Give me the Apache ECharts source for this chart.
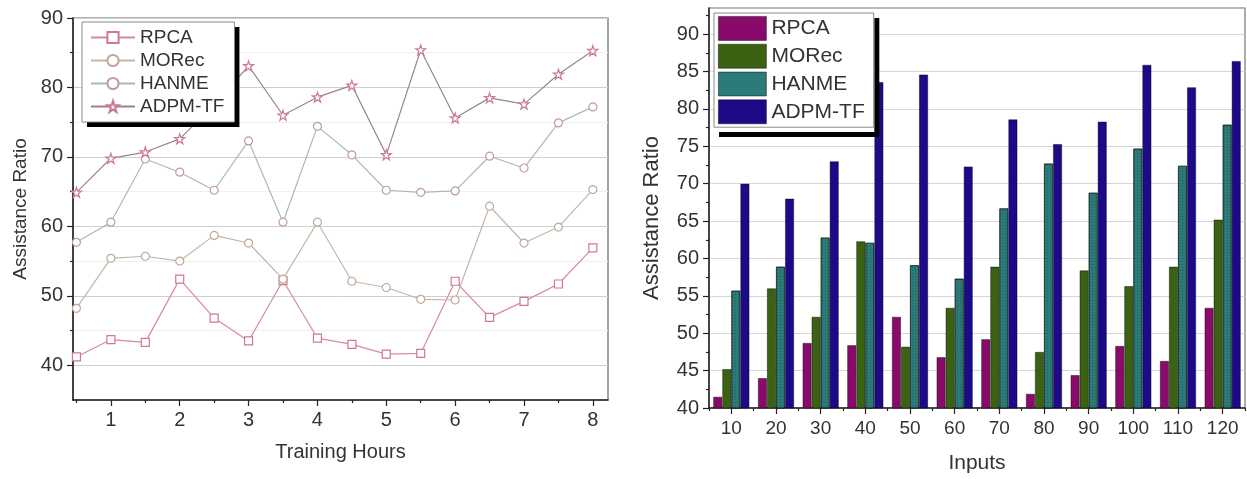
<!DOCTYPE html>
<html>
<head>
<meta charset="utf-8">
<title>Assistance Ratio</title>
<script src="https://cdn.jsdelivr.net/npm/echarts@6/dist/echarts.min.js"></script>
<style>
  html, body { margin: 0; padding: 0; background: #ffffff; }
  #chart { width: 1247px; height: 479px; }
</style>
</head>
<body>
<div id="chart"></div>
<script>
// ---- Left panel: assistance ratio over training hours ----
const hours = [0.5, 1, 1.5, 2, 2.5, 3, 3.5, 4, 4.5, 5, 5.5, 6, 6.5, 7, 7.5, 8];
const rpcaHours  = [41.2, 43.7, 43.3, 52.4, 46.8, 43.5, 52.2, 43.9, 43.0, 41.6, 41.7, 52.1, 46.9, 49.2, 51.7, 56.9];
const morecHours = [48.2, 55.4, 55.7, 55.0, 58.7, 57.6, 52.4, 60.6, 52.1, 51.2, 49.5, 49.4, 62.9, 57.6, 59.9, 65.3];
const hanmeHours = [57.7, 60.6, 69.7, 67.8, 65.2, 72.3, 60.6, 74.4, 70.3, 65.2, 64.9, 65.1, 70.1, 68.4, 74.9, 77.2];
const adpmHours  = [64.9, 69.8, 70.7, 72.6, 77.5, 83.1, 76.0, 78.6, 80.3, 70.3, 85.4, 75.6, 78.5, 77.6, 81.9, 85.3];
const hourLabels = [1, 2, 3, 4, 5, 6, 7, 8];
const hourHalfTicks = [0.5, 1.5, 2.5, 3.5, 4.5, 5.5, 6.5, 7.5];
const leftYLabels = [40, 50, 60, 70, 80, 90];
const leftYMinor = [45, 55, 65, 75, 85];

// ---- Right panel: assistance ratio per input count ----
const inputs = ['10', '20', '30', '40', '50', '60', '70', '80', '90', '100', '110', '120'];
const rpcaInputs  = [41.5, 44.0, 48.7, 48.4, 52.2, 46.8, 49.2, 41.9, 44.4, 48.3, 46.3, 53.4];
const morecInputs = [45.2, 56.0, 52.2, 62.3, 48.2, 53.4, 58.9, 47.5, 58.4, 56.3, 58.9, 65.2];
const hanmeInputs = [55.7, 58.9, 62.8, 62.1, 59.1, 57.3, 66.7, 72.7, 68.8, 74.7, 72.4, 77.9];
const adpmInputs  = [70.0, 68.0, 73.0, 83.6, 84.6, 72.3, 78.6, 75.3, 78.3, 85.9, 82.9, 86.4];
const rightYLabels = [40, 45, 50, 55, 60, 65, 70, 75, 80, 85, 90];
const rightYMinor = [42.5, 47.5, 52.5, 57.5, 62.5, 67.5, 72.5, 77.5, 82.5, 87.5, 92.5];

const seriesNames = ['RPCA', 'MORec', 'HANME', 'ADPM-TF'];

const FONT = '"Liberation Sans", Arial, sans-serif';
const TEXT = '#333333';
const STAR = 'path://M50,2 L61,36 L97,36 L68,57 L79,92 L50,71 L21,92 L32,57 L3,36 L39,36 Z';

const pairs = (xs, ys) => xs.map((x, i) => [x, ys[i]]);

const lineStyles = [
  { name: seriesNames[0], data: rpcaHours,  line: '#d58aa2', mark: '#d07892', symbol: 'rect' },
  { name: seriesNames[1], data: morecHours, line: '#c2b6a6', mark: '#c0a898', symbol: 'circle' },
  { name: seriesNames[2], data: hanmeHours, line: '#a6bcb0', mark: '#c09aa0', symbol: 'circle' },
  { name: seriesNames[3], data: adpmHours,  line: '#9c809e', mark: '#cc7a96', symbol: STAR }
];

const barColors = ['#8a0a6c', '#3a6212', '#2b7b79', '#1c0a88'];
const barData = [rpcaInputs, morecInputs, hanmeInputs, adpmInputs];
const barBorder = 'rgba(0,0,0,0.55)';
// HANME bars carry a fine dotted fill
const dotFill = { symbol: 'rect', symbolSize: 1, color: 'rgba(10,40,40,0.35)', dashArrayX: [1, 2], dashArrayY: [1, 2], rotation: 0 };
const barDecals = [null, null, dotFill, null];

const lineSeries = lineStyles.map(s => ({
  name: s.name,
  type: 'line',
  xAxisIndex: 0,
  yAxisIndex: 0,
  data: pairs(hours, s.data),
  symbol: s.symbol,
  symbolSize: s.symbol === STAR ? 10 : 8,
  lineStyle: { color: s.line, width: 1.2 },
  itemStyle: { color: '#ffffff', borderColor: s.mark, borderWidth: 1.2 },
  z: 3
}));

const barSeries = barData.map((d, i) => {
  const style = { color: barColors[i], borderColor: barBorder, borderWidth: 0.8 };
  if (barDecals[i]) style.decal = barDecals[i];
  return {
    name: seriesNames[i],
    type: 'bar',
    xAxisIndex: 2,
    yAxisIndex: 2,
    data: d,
    barGap: '0%',
    barCategoryGap: '19%',
    itemStyle: style
  };
});

// Legend boxes: a plain white box casting the black drop shadow sits behind,
// and the visible legend (grey frame, icons, text) is drawn on top of it.
const leftLegendBase = {
  orient: 'vertical',
  left: 82, top: 22,
  padding: [6, 10, 6, 8],
  itemWidth: 44, itemHeight: 14, itemGap: 4,
  selectedMode: false
};
const rightLegendBase = {
  orient: 'vertical',
  left: 714, top: 13,
  padding: [3, 9, 3, 4],
  itemWidth: 48, itemHeight: 24, itemGap: 3,
  selectedMode: false
};
const shadowBox = {
  backgroundColor: '#ffffff',
  borderWidth: 0,
  shadowColor: '#000000', shadowBlur: 0, shadowOffsetX: 5, shadowOffsetY: 5,
  itemStyle: { opacity: 0 },
  lineStyle: { opacity: 0 },
  z: 4
};

const chart = echarts.init(document.getElementById('chart'), null, { renderer: 'canvas' });

chart.setOption({
  backgroundColor: '#ffffff',
  animation: false,
  textStyle: { fontFamily: FONT, color: TEXT },
  grid: [
    { left: 73, top: 18, width: 535, height: 382, show: true, borderColor: '#666666', borderWidth: 1.2, backgroundColor: 'transparent' },
    { left: 709, top: 8, width: 536, height: 401, show: true, borderColor: '#777777', borderWidth: 1.2, backgroundColor: 'transparent' }
  ],
  legend: [
    Object.assign({}, leftLegendBase, shadowBox, {
      data: seriesNames.slice(),
      textStyle: { fontFamily: FONT, fontSize: 19, color: 'rgba(0,0,0,0)' }
    }),
    Object.assign({}, leftLegendBase, {
      data: seriesNames.slice(),
      backgroundColor: 'transparent',
      borderColor: '#8a8a8a', borderWidth: 1,
      textStyle: { fontFamily: FONT, fontSize: 19, color: TEXT },
      z: 5
    }),
    Object.assign({}, rightLegendBase, shadowBox, {
      data: seriesNames.map(n => ({ name: n, icon: 'rect' })),
      textStyle: { fontFamily: FONT, fontSize: 21, color: 'rgba(0,0,0,0)' }
    }),
    Object.assign({}, rightLegendBase, {
      data: seriesNames.map((n, i) => ({
        name: n, icon: 'rect',
        itemStyle: { color: barColors[i], borderColor: barBorder, borderWidth: 0.8, opacity: 1 }
      })),
      backgroundColor: 'transparent',
      borderColor: '#8a8a8a', borderWidth: 1,
      textStyle: { fontFamily: FONT, fontSize: 21, color: TEXT },
      z: 5
    })
  ],
  xAxis: [
    {
      gridIndex: 0, type: 'value', min: 0.45, max: 8.22, position: 'bottom',
      name: 'Training Hours', nameLocation: 'middle', nameGap: 42,
      nameTextStyle: { fontFamily: FONT, fontSize: 20, color: TEXT },
      axisLine: { show: true, onZero: false, lineStyle: { color: '#222222', width: 1.5 } },
      axisTick: { show: true, inside: false, length: 6, customValues: hourLabels, lineStyle: { color: '#222222', width: 1.2 } },
      axisLabel: { customValues: hourLabels, margin: 10, fontSize: 20, color: TEXT, fontFamily: FONT },
      splitLine: { show: false }
    },
    {
      gridIndex: 0, type: 'value', min: 0.45, max: 8.22, position: 'bottom',
      axisLine: { show: false },
      axisTick: { show: true, inside: false, length: 3, customValues: hourHalfTicks, lineStyle: { color: '#222222', width: 1.2 } },
      axisLabel: { show: false },
      splitLine: { show: false }
    },
    {
      gridIndex: 1, type: 'category', data: inputs, position: 'bottom',
      name: 'Inputs', nameLocation: 'middle', nameGap: 45,
      nameTextStyle: { fontFamily: FONT, fontSize: 21, color: TEXT },
      axisLine: { show: true, lineStyle: { color: '#222222', width: 1.5 } },
      axisTick: { show: true, alignWithLabel: true, length: 6, lineStyle: { color: '#222222', width: 1.2 } },
      axisLabel: { margin: 11, fontSize: 19, color: TEXT, fontFamily: FONT, interval: 0 },
      splitLine: { show: false }
    },
    {
      gridIndex: 1, type: 'category', data: inputs, position: 'bottom',
      axisLine: { show: false },
      axisTick: { show: true, interval: 0, length: 3, lineStyle: { color: '#222222', width: 1.2 } },
      axisLabel: { show: false },
      splitLine: { show: false }
    }
  ],
  yAxis: [
    {
      gridIndex: 0, type: 'value', min: 35, max: 90, interval: 5, position: 'left',
      name: 'Assistance Ratio', nameLocation: 'middle', nameGap: 43, nameRotate: 90,
      nameTextStyle: { fontFamily: FONT, fontSize: 19, color: TEXT },
      axisLine: { show: true, lineStyle: { color: '#222222', width: 1.5 } },
      axisTick: { show: true, inside: false, length: 6, customValues: leftYLabels, lineStyle: { color: '#222222', width: 1.2 } },
      axisLabel: { customValues: leftYLabels, margin: 10, fontSize: 20, color: TEXT, fontFamily: FONT },
      splitLine: { show: true, lineStyle: { color: '#cfcfcf', width: 1 } }
    },
    {
      gridIndex: 0, type: 'value', min: 35, max: 90, interval: 5, position: 'left',
      axisLine: { show: false },
      axisTick: { show: true, inside: false, length: 3, customValues: leftYMinor, lineStyle: { color: '#222222', width: 1.2 } },
      axisLabel: { show: false },
      splitLine: { show: true, lineStyle: { color: '#efefef', width: 1 } }
    },
    {
      gridIndex: 1, type: 'value', min: 40, max: 93.5, interval: 5, position: 'left',
      name: 'Assistance Ratio', nameLocation: 'middle', nameGap: 46, nameRotate: 90,
      nameTextStyle: { fontFamily: FONT, fontSize: 22, color: TEXT, padding: [0, 20, 0, 0] },
      axisLine: { show: true, lineStyle: { color: '#222222', width: 1.5 } },
      axisTick: { show: true, inside: false, length: 6, customValues: rightYLabels, lineStyle: { color: '#222222', width: 1.2 } },
      axisLabel: { customValues: rightYLabels, margin: 10, fontSize: 20, color: TEXT, fontFamily: FONT },
      splitLine: { show: true, lineStyle: { color: '#d6d6d6', width: 1 } }
    },
    {
      gridIndex: 1, type: 'value', min: 40, max: 93.5, interval: 5, position: 'left',
      axisLine: { show: false },
      axisTick: { show: true, inside: false, length: 3, customValues: rightYMinor, lineStyle: { color: '#222222', width: 1.2 } },
      axisLabel: { show: false },
      splitLine: { show: false }
    }
  ],
  series: lineSeries.concat(barSeries)
});
</script>
</body>
</html>
